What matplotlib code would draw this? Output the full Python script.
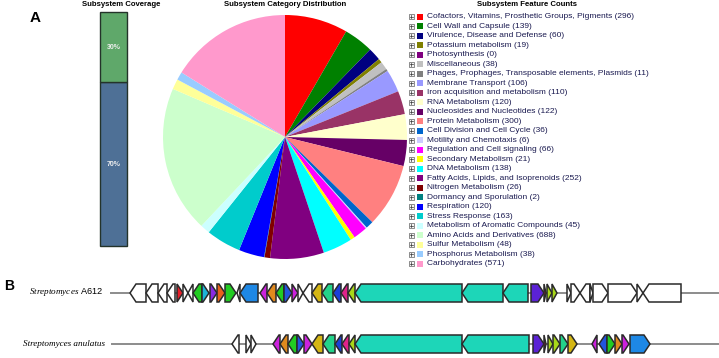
import matplotlib.pyplot as plt
from matplotlib.patches import Polygon, Rectangle

plt.rcParams['font.family'] = ['Liberation Sans', 'DejaVu Sans']
plt.rcParams['mathtext.fontset'] = 'custom'
plt.rcParams['mathtext.rm'] = 'Liberation Serif'
plt.rcParams['mathtext.it'] = 'Liberation Serif:italic'

# ---- panel A data ----
categories = ['Cofactors, Vitamins, Prosthetic Groups, Pigments', 'Cell Wall and Capsule',
              'Virulence, Disease and Defense', 'Potassium metabolism', 'Photosynthesis',
              'Miscellaneous', 'Phages, Prophages, Transposable elements, Plasmids',
              'Membrane Transport', 'Iron acquisition and metabolism', 'RNA Metabolism',
              'Nucleosides and Nucleotides', 'Protein Metabolism', 'Cell Division and Cell Cycle',
              'Motility and Chemotaxis', 'Regulation and Cell signaling', 'Secondary Metabolism',
              'DNA Metabolism', 'Fatty Acids, Lipids, and Isoprenoids', 'Nitrogen Metabolism',
              'Dormancy and Sporulation', 'Respiration', 'Stress Response',
              'Metabolism of Aromatic Compounds', 'Amino Acids and Derivatives',
              'Sulfur Metabolism', 'Phosphorus Metabolism', 'Carbohydrates']
counts = [296, 139, 60, 19, 0, 38, 11, 106, 110, 120, 122, 300, 36, 6, 66, 21,
          138, 252, 26, 2, 120, 163, 45, 688, 48, 38, 571]
cat_colors = ['#FF0000', '#008000', '#000080', '#808000', '#800080', '#C0C0C0', '#808080',
              '#9999FF', '#993366', '#FFFFCC', '#660066', '#FF8080', '#0066CC', '#CCCCFF',
              '#FF00FF', '#FFFF00', '#00FFFF', '#800080', '#800000', '#008080', '#0000FF',
              '#00CCCC', '#CCFFFF', '#CCFFCC', '#FFFF99', '#99CCFF', '#FF99CC']

coverage_vals = [70, 30]
coverage_labels = ['70%', '30%']
coverage_colors = ['#4E7096', '#5FA86A']

# ---- panel B data (positions in kb) ----
gene_colors = {'w': 'white', 'red': '#E8202A', 'grn': '#22CC22', 'sky': '#1DB4D8',
               'pur': '#8A2BE2', 'org': '#E8601C', 'org2': '#E08A1E', 'blu': '#1E88E5',
               'mag': '#CC22DD', 'blu2': '#2255DD', 'gold': '#D4B614', 'mint': '#22D38A',
               'roy': '#1B3FD8', 'pink': '#E0228A', 'ygr': '#A8D81A', 'turq': '#1DD6B8',
               'ind': '#5B22D6', 'crim': '#C01040'}

a612_start = [2.0, 3.6, 4.8, 5.7, 6.7, 7.3, 7.8, 8.3, 9.2, 10.0, 10.7, 11.5, 12.7, 13.0,
              15.0, 15.7, 16.6, 17.4, 18.2, 18.8, 19.3, 20.2, 21.2, 22.3, 23.1, 23.8,
              24.5, 35.2, 39.3, 42.1, 43.4, 43.7, 44.2, 45.7, 46.1, 47.0, 48.0, 48.3,
              49.8, 52.7, 53.3]
a612_end = [3.6, 4.8, 5.7, 6.5, 7.3, 7.8, 8.3, 9.2, 9.9, 10.7, 11.5, 12.6, 13.0, 14.8,
            15.7, 16.6, 17.4, 18.2, 18.8, 19.3, 20.2, 21.2, 22.3, 23.1, 23.8, 24.5,
            35.2, 39.3, 41.8, 43.4, 43.6, 44.2, 44.7, 46.1, 47.0, 48.0, 48.3, 49.8,
            52.7, 53.3, 57.1]
a612_strand = [-1, -1, -1, -1, 1, 1, -1, -1, 1, 1, 1, 1, -1, -1, -1, -1, -1, 1, 1, 1, -1,
               -1, -1, -1, -1, -1, -1, -1, -1, 1, 1, 1, 1, 1, 1, -1, 1, 1, 1, 1, -1]
a612_col = ['w', 'w', 'w', 'w', 'red', 'w', 'w', 'grn', 'sky', 'pur', 'org', 'grn', 'w',
            'blu', 'mag', 'org2', 'grn', 'blu2', 'mag', 'w', 'w', 'gold', 'mint', 'roy',
            'pink', 'ygr', 'turq', 'turq', 'turq', 'ind', 'crim', 'ygr', 'ygr', 'w', 'w',
            'w', 'w', 'w', 'w', 'w', 'w']

anu_start = [12.2, 13.6, 14.1, 16.3, 17.0, 17.8, 18.7, 19.4, 20.2, 21.3, 22.5, 23.2, 23.9,
             24.5, 35.2, 42.3, 43.4, 43.8, 44.3, 45.0, 45.8, 48.2, 48.9, 49.7, 50.5,
             51.2, 52.0]
anu_end = [12.9, 14.1, 14.6, 17.0, 17.8, 18.7, 19.4, 20.2, 21.3, 22.5, 23.2, 23.9, 24.5,
           35.2, 41.9, 43.4, 43.6, 44.3, 45.0, 45.8, 46.7, 48.7, 49.7, 50.5, 51.2,
           51.9, 54.0]
anu_strand = [-1, 1, 1, -1, -1, -1, 1, 1, -1, -1, -1, -1, -1, -1, -1, 1, 1, 1, 1, 1, 1,
              -1, -1, 1, 1, 1, 1]
anu_col = ['w', 'w', 'w', 'mag', 'org2', 'grn', 'blu2', 'mag', 'gold', 'mint', 'roy',
           'pink', 'ygr', 'turq', 'turq', 'ind', 'crim', 'ygr', 'ygr', 'mint', 'gold',
           'mag', 'blu2', 'grn', 'org2', 'mag', 'blu']

W, H = 719, 358
fig = plt.figure(figsize=(W / 100, H / 100), dpi=100)

# overlay in pixel units for texts / legend
ov = fig.add_axes([0, 0, 1, 1])
ov.set_xlim(0, W)
ov.set_ylim(H, 0)
ov.axis('off')

ov.text(35, 18, 'A', fontsize=11, fontweight='bold', ha='center', va='center')
ov.text(9, 286, 'B', fontsize=10, fontweight='bold', ha='center', va='center')
ov.text(121, 5, 'Subsystem Coverage', fontsize=5.6, fontweight='bold', ha='center', va='center')
ov.text(285, 5, 'Subsystem Category Distribution', fontsize=5.6, fontweight='bold',
        ha='center', va='center')
ov.text(527, 5, 'Subsystem Feature Counts', fontsize=5.6, fontweight='bold',
        ha='center', va='center')

# legend
for i, (c, n, col) in enumerate(zip(categories, counts, cat_colors)):
    y = 16.7 + 9.5 * i
    ov.add_patch(Rectangle((408.5, y - 2.5), 5, 5, facecolor='#F4F4F4', edgecolor='#606060', lw=0.5))
    ov.plot([409.5, 412.5], [y, y], color='#303030', lw=0.5)
    ov.plot([411, 411], [y - 1.5, y + 1.5], color='#303030', lw=0.5)
    ov.add_patch(Rectangle((417, y - 3), 6, 6, facecolor=col, edgecolor='none'))
    ov.text(427, y, f'{c} ({n})', fontsize=6.0, ha='left', va='center', color='#1A1A50')

# coverage bar
cov = fig.add_axes([100 / W, 1 - 246 / H, 27 / W, 234 / H])
bottom = 0
for v, lab, col in zip(coverage_vals, coverage_labels, coverage_colors):
    cov.bar(0, v, bottom=bottom, width=1, color=col, edgecolor='#24332A', lw=1.0,
            clip_on=False)
    cov.text(0, bottom + v / 2, lab, ha='center', va='center',
             fontsize=5, fontweight='bold', color='#EEEEEE')
    bottom += v
cov.set_xlim(-0.5, 0.5)
cov.set_ylim(0, 100)
cov.axis('off')

# pie
r = 122
pie_ax = fig.add_axes([(285 - r) / W, 1 - (137 + r) / H, 2 * r / W, 2 * r / H])
pie_ax.pie(counts, colors=cat_colors, startangle=90, counterclock=False,
           wedgeprops=dict(linewidth=0))
pie_ax.set_xlim(-1, 1)
pie_ax.set_ylim(-1, 1)
pie_ax.set_aspect('equal')

# gene tracks
gx = fig.add_axes([110 / W, 0, 609 / W, 88 / H])
gx.set_xlim(0, 60.9)
gx.set_ylim(88, 0)
gx.axis('off')


def draw_row(y, starts, ends, strands, cols, line_from):
    gx.plot([line_from, 60.8], [y, y], color='#8C8C8C', lw=1.4, zorder=1)
    h = 9
    for s, e, d, c in zip(starts, ends, strands, cols):
        t = min(0.6, e - s)
        if d > 0:
            pts = [(s, y - h), (e - t, y - h), (e, y), (e - t, y + h), (s, y + h)]
        else:
            pts = [(e, y - h), (s + t, y - h), (s, y), (s + t, y + h), (e, y + h)]
        gx.add_patch(Polygon(pts, closed=True, facecolor=gene_colors[c],
                             edgecolor='#2A2A2A', lw=1.1, joinstyle='miter', zorder=2))


draw_row(23, a612_start, a612_end, a612_strand, a612_col, 0.1)
draw_row(74, anu_start, anu_end, anu_strand, anu_col, 0.2)

ov.text(103, 292, r'$\it{Streptomyces}$ A612', fontsize=6.6, ha='right', va='center')
ov.text(105, 344, 'Streptomyces anulatus', fontsize=6.6, ha='right', va='center',
        family='Liberation Serif', style='italic')

fig.savefig('out.png', dpi=100)
